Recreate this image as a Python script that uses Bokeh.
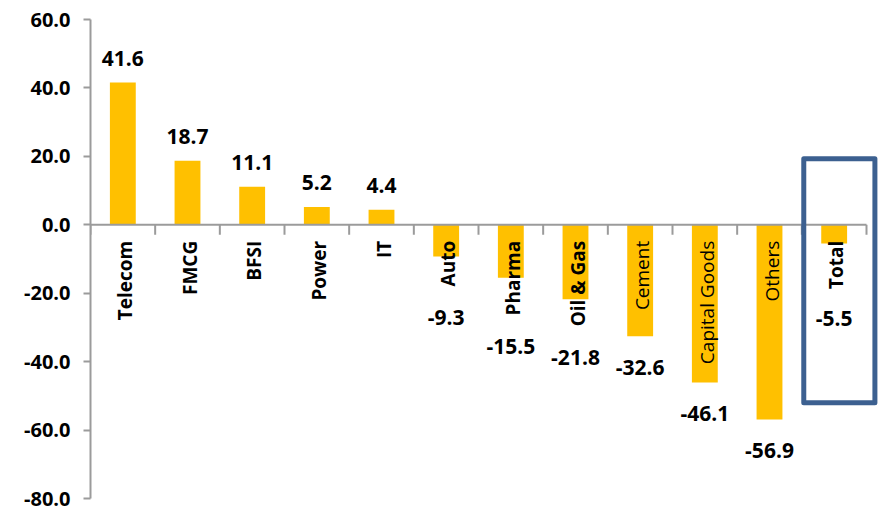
import math

from bokeh.core.properties import value
from bokeh.embed import file_html
from bokeh.models import ColumnDataSource, FixedTicker, NumeralTickFormatter
from bokeh.plotting import figure
from bokeh.resources import INLINE

# Sector-wise change (%)
sectors = ["Telecom", "FMCG", "BFSI", "Power", "IT", "Auto", "Pharma",
           "Oil & Gas", "Cement", "Capital Goods", "Others", "Total"]
changes = [41.6, 18.7, 11.1, 5.2, 4.4, -9.3, -15.5, -21.8, -32.6, -46.1, -56.9, -5.5]
y_ticks = [-80, -60, -40, -20, 0, 20, 40, 60]

FONT = "Open Sans"
BAR_COLOR = "#FFC000"
AXIS_COLOR = "#9B9B9B"
BOX_COLOR = "#3C6090"
CAT_FS = 19
VAL_FS = 21

W, H = 878, 511
LEFT, TOP, BOTTOM = 90, 19, 13
n = len(sectors)
axis_px = 776                     # length of the category axis in pixels
frame_w = W - LEFT
frame_h = H - TOP - BOTTOM
x_end = n * frame_w / axis_px
y_lo, y_hi = y_ticks[0], y_ticks[-1]
ppu = frame_h / (y_hi - y_lo)     # pixels per unit on the value axis


def text_width(s, size, bold):
    """Rendered width of a label in pixels (PIL when the font is found)."""
    try:
        from PIL import ImageFont
        name = "OpenSans-Bold.ttf" if bold else "OpenSans-Regular.ttf"
        f = ImageFont.truetype(name, size)
        return f.getlength(s)
    except Exception:
        return len(s) * size * (0.6 if bold else 0.56)


cat_gap = 16     # gap between zero line and start of the category label
val_gap = 31     # gap between end of bar/label and value label centre

xs = [i + 0.5 for i in range(n)]

inside_x, inside_t, outside_x, outside_t = [], [], [], []
val_y = []
for x, s, v in zip(xs, sectors, changes):
    bar_px = abs(v) * ppu
    tw_bold = text_width(s, CAT_FS, True)
    tw_reg = text_width(s, CAT_FS, False)
    if v < 0 and cat_gap + tw_reg <= bar_px:
        inside_x.append(x); inside_t.append(s)
        tw = tw_reg
    else:
        outside_x.append(x); outside_t.append(s)
        tw = tw_bold
    if v >= 0:
        val_y.append(v)
    else:
        below = max(bar_px, cat_gap + tw) + val_gap
        val_y.append(-below / ppu)

pos_src = ColumnDataSource(dict(
    x=[x for x, v in zip(xs, changes) if v >= 0],
    y=[v for v in changes if v >= 0],
    t=["%.1f" % v for v in changes if v >= 0]))
neg_src = ColumnDataSource(dict(
    x=[x for x, v in zip(xs, changes) if v < 0],
    y=[yy for yy, v in zip(val_y, changes) if v < 0],
    t=["%.1f" % v for v in changes if v < 0]))

p = figure(width=W, height=H, x_range=(0, x_end), y_range=(y_lo, y_hi),
           x_axis_type=None, title=None, output_backend="svg",
           toolbar_location=None, min_border_left=LEFT, min_border_right=0,
           min_border_top=TOP, min_border_bottom=BOTTOM)
p.outline_line_color = None
p.ygrid.grid_line_color = None
p.background_fill_color = "white"
p.border_fill_color = "white"

ax = p.yaxis[0]
ax.ticker = FixedTicker(ticks=y_ticks)
ax.formatter = NumeralTickFormatter(format="0.0")
ax.axis_line_color = AXIS_COLOR
ax.axis_line_width = 2
ax.major_tick_line_color = AXIS_COLOR
ax.major_tick_line_width = 2
ax.major_tick_out = 7
ax.major_tick_in = 0
ax.minor_tick_line_color = None
ax.major_label_standoff = 13
ax.major_label_text_font = FONT
ax.major_label_text_font_size = "20px"
ax.major_label_text_font_style = "bold"
ax.major_label_text_color = "black"

# bars
p.vbar(x=xs, top=changes, bottom=0, width=0.4, color=BAR_COLOR, line_color=None)

# category axis along the zero line, with ticks between categories
tick_len = 10 / ppu
p.segment(x0=[0], y0=[0], x1=[n], y1=[0], line_color=AXIS_COLOR, line_width=2)
p.segment(x0=list(range(n + 1)), y0=[0] * (n + 1), x1=list(range(n + 1)),
          y1=[-tick_len] * (n + 1), line_color=AXIS_COLOR, line_width=2)

# rotated category labels hanging below the zero line
for lx, lt, style in ((outside_x, outside_t, "bold"), (inside_x, inside_t, "normal")):
    if not lx:
        continue
    p.text(x=lx, y=[0] * len(lx), text=lt, angle=math.pi / 2,
           text_align="right", text_baseline="middle", y_offset=cat_gap,
           x_offset=2, text_font=value(FONT), text_font_size="%dpx" % CAT_FS,
           text_font_style=style, text_color="black")

# value labels
p.text(x="x", y="y", text="t", source=pos_src, text_align="center",
       text_baseline="middle", y_offset=-24, text_font=value(FONT),
       text_font_size="%dpx" % VAL_FS, text_font_style="bold", text_color="black")
p.text(x="x", y="y", text="t", source=neg_src, text_align="center",
       text_baseline="middle", text_font=value(FONT),
       text_font_size="%dpx" % VAL_FS, text_font_style="bold", text_color="black")

# highlight box around the total
ti = sectors.index("Total")
p.quad(left=[ti + 0.03], right=[ti + 1.13], top=[19.3], bottom=[-52.0],
       fill_color=None, line_color=BOX_COLOR, line_width=5, line_join="round")

open("out.html", "w").write(file_html(p, INLINE))
